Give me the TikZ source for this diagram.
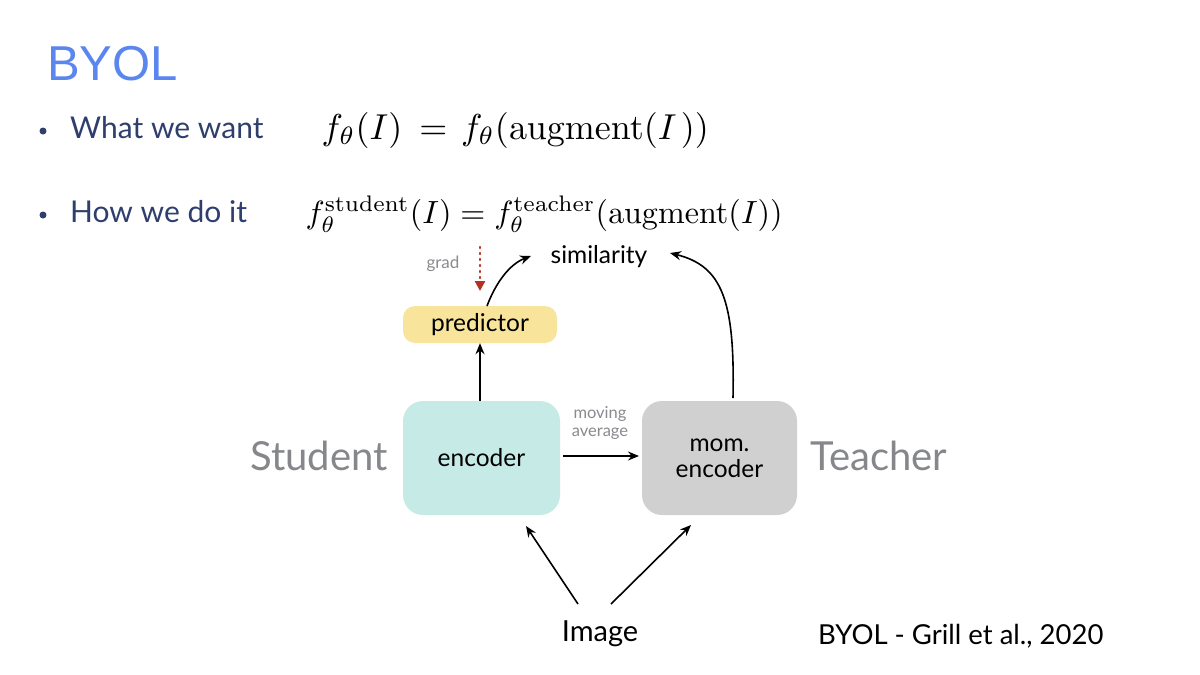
\documentclass[tikz,border=0pt]{standalone}
\usepackage[no-math]{fontspec}
\setmainfont{Lato}
\newfontfamily\titlefont{Liberation Sans}
\usetikzlibrary{arrows.meta}
\definecolor{titleblue}{HTML}{5B86F0}
\definecolor{navy}{HTML}{2E3F6E}
\definecolor{labelgray}{HTML}{85878B}
\definecolor{smallgray}{HTML}{8A8B8F}
\definecolor{predfill}{HTML}{F8E59B}
\definecolor{encfill}{HTML}{C6EBE6}
\definecolor{momfill}{HTML}{D0D0D0}
\definecolor{gradred}{HTML}{B5301F}
\newcommand{\fs}[1]{\fontsize{#1}{1.2\dimexpr#1pt\relax}\selectfont}
\begin{document}
\begin{tikzpicture}[x=1pt,y=-1pt,
  boxnode/.style={rounded corners=20, inner sep=0, align=center, font=\fs{24.5}},
  arr/.style={draw=black, line width=1.6, -{Stealth[length=11, width=9]}},
  bigside/.style={text=labelgray, font=\fs{40}, inner sep=0},
  small/.style={text=smallgray, font=\fs{17}, inner sep=0, align=center},
  bullettext/.style={text=navy, font=\fs{30}, anchor=base west, inner sep=0},
  dot/.style={circle, fill=navy, inner sep=0, minimum size=7},
  formula/.style={anchor=west, inner sep=0, font=\fs{10}, transform shape}]
\useasboundingbox (0,0) rectangle (1200,675);
\fill[white] (0,0) rectangle (1200,675);

% title
\node[anchor=base west, inner sep=0, text=titleblue, font=\titlefont\fs{49}] (title) at (47,80) {BYOL};

% bullets
\node[dot] (d1) at (43,131) {};
\node[bullettext] (w1) at (70,138) {What we want};
\node[dot] (d2) at (43,215) {};
\node[bullettext] (w2) at (70,222) {How we do it};

\node[formula, scale=3.6] (eq1) at (321,130)
  {$f_\theta(I) \kern2pt=\kern1pt f_\theta(\mathrm{augment}(I\kern1.2pt))$};
\node[formula, scale=3.21] (eq2) at (305,214)
  {$f_\theta^{\mathrm{student}}(I) = f_\theta^{\mathrm{teacher}}(\mathrm{augment}(I))$};

% diagram boxes
\node[boxnode, fill=predfill, rounded corners=12, minimum width=154, minimum height=37] (pred) at (480,324.5) {predictor};
\node[boxnode, fill=encfill, minimum width=157, minimum height=114] (enc) at (481.5,458) {encoder};
\node[boxnode, fill=momfill, minimum width=155, minimum height=114] (mom) at (719.5,458) {mom.\\[-3pt]encoder};

\node[font=\fs{24.5}, inner sep=0] (sim) at (599,257) {similarity};
\node[font=\fs{29}, inner sep=0] (img) at (600,634) {Image};
\node[bigside] (stud) at (319,456) {Student};
\node[bigside] (teach) at (879,456) {Teacher};
\node[anchor=west, font=\fs{27.5}, inner sep=0] (cite) at (818,636) {BYOL - Grill et al., 2020};

\node[small] (grad) at (443,264) {grad};
\node[small, font=\fs{16.5}] (mavg) at (600,423) {moving\\[-2pt]average};

% connectors
\coordinate (gradtop) at (480,247);
\coordinate (gradend) at (480,291);
\draw[gradred, line width=2.2, line cap=round, dash pattern=on 1pt off 5pt, -{Triangle[length=10, width=10]}] (gradtop) -- (gradend);

\coordinate (predout) at (487,306);
\coordinate (simL) at (531,256);
\draw[arr] (predout) .. controls (496,282) and (510,264) .. (simL);

\coordinate (momout) at (733,398);
\coordinate (simR) at (670,253);
\draw[arr] (momout) .. controls (735,300) and (722,266) .. (simR);

\draw[arr] (enc.north -| pred.south) -- (pred.south);

\coordinate (encR) at (563,456);
\coordinate (momL) at (639,456);
\draw[arr] (encR) -- (momL);

\coordinate (imgL) at (578,604);
\coordinate (imgR) at (611,604);
\coordinate (encIn) at (526,526);
\coordinate (momIn) at (691,525);
\draw[arr] (imgL) -- (encIn);
\draw[arr] (imgR) -- (momIn);
\end{tikzpicture}
\end{document}
